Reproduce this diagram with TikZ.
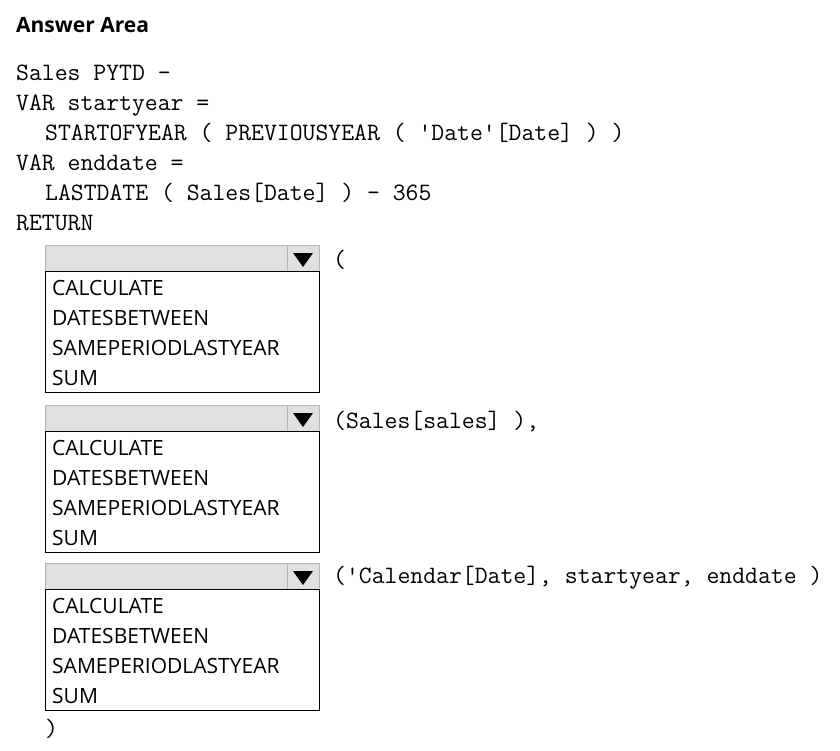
\documentclass[tikz,border=0pt]{standalone}
\usepackage{fontspec}
\setmainfont{Open Sans}
\definecolor{barfill}{HTML}{E0E0E0}
\definecolor{bardraw}{HTML}{B4B4B4}
\begin{document}
\begin{tikzpicture}[x=1pt,y=-1pt,
  code/.style={anchor=base west, inner sep=0pt, font=\ttfamily\fontsize{25}{25}\selectfont},
  item/.style={anchor=base west, inner sep=0pt, font=\fontsize{21}{21}\selectfont},
  titletext/.style={anchor=base west, inner sep=0pt, font=\bfseries\fontsize{21}{21}\selectfont},
  bar/.style={fill=barfill, draw=bardraw, line width=1pt},
  listbox/.style={draw=black, line width=1pt, fill=white},
  tri/.style={fill=black, draw=none}]
\useasboundingbox (0,0) rectangle (840,750);
\fill[white] (0,0) rectangle (840,750);
\node[titletext] (title) at (16,32) {Answer Area};
\node[code] (c1) at (16,80)  {Sales PYTD -};
\node[code] (c2) at (16,110) {VAR startyear =};
\node[code] (c3) at (45,140) {STARTOFYEAR ( PREVIOUSYEAR ( 'Date'[Date] ) )};
\node[code] (c4) at (16,170) {VAR enddate =};
\node[code] (c5) at (45,200) {LASTDATE ( Sales[Date] ) - 365};
\node[code] (c6) at (16,230) {RETURN};
\foreach \i/\t in {1/245,2/405,3/563} {
  \draw[bar] (45,\t) rectangle (287,\t+26);
  \draw[bar] (287,\t) rectangle (319,\t+26);
  \fill[tri] (293,\t+8) -- (313,\t+8) -- (303,\t+22) -- cycle;
  \draw[listbox] (45,\t+26) rectangle (319,\t+147);
  \node[item] (a\i) at (52,\t+50)  {CALCULATE};
  \node[item] (b\i) at (52,\t+80)  {DATESBETWEEN};
  \node[item] (s\i) at (52,\t+110) {SAMEPERIODLASTYEAR};
  \node[item] (u\i) at (52,\t+140) {SUM};
}
\node[code] (r1) at (333,267) {(};
\node[code] (r2) at (333,428) {(Sales[sales] ),};
\node[code] (r3) at (333,583) {('Calendar[Date], startyear, enddate )};
\node[code] (r4) at (45,736) {)};
\end{tikzpicture}
\end{document}
